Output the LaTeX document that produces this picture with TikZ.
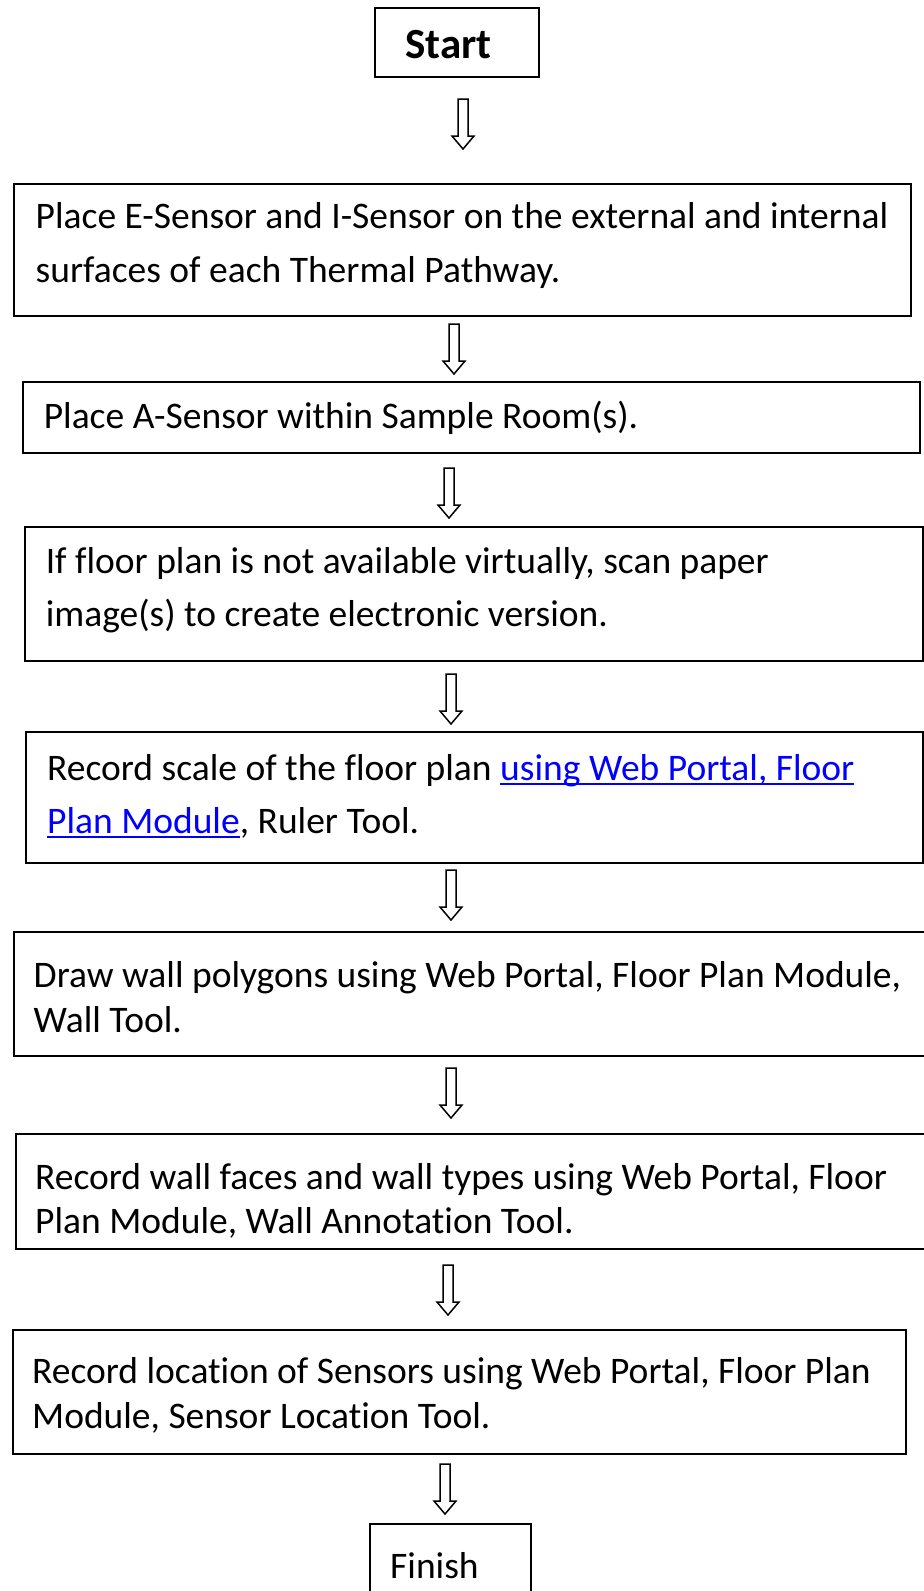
\documentclass[tikz,border=0pt]{standalone}
\usepackage{fontspec}
\setmainfont{Carlito}[Ligatures={NoCommon,NoContextual}]
\definecolor{linkblue}{RGB}{0,0,255}
\newcommand\ulk[1]{\setbox0\hbox{#1}\rlap{\rule[-4.5pt]{\wd0}{2pt}}\box0}
\tikzset{
  stepbox/.style={draw=black, line width=2pt, inner sep=0pt, anchor=north west},
  txt/.style={anchor=base west, inner sep=0pt, font=\fontsize{37.5}{44}\selectfont},
  hollow/.style={draw=black, line width=1.5pt, fill=white, line join=miter},
}
\newcommand\hollowarrow[1]{%
  \draw[hollow] (#1) ++(-5,0) -- ++(0,37) -- ++(-6,0) -- ++(11,13) -- ++(11,-13) -- ++(-6,0) -- ++(0,-37) -- cycle;}
\begin{document}
\begin{tikzpicture}[x=1pt,y=-1pt]
\useasboundingbox (0,0) rectangle (924,1591);
\fill[white] (0,0) rectangle (924,1591);
\clip (0,0) rectangle (924,1591);

% boxes
\node[stepbox, minimum width=164pt, minimum height=69pt] (start) at (374,7) {};
\node[stepbox, minimum width=897pt, minimum height=132pt] (b1) at (13,183) {};
\node[stepbox, minimum width=897pt, minimum height=71pt] (b2) at (22,381) {};
\node[stepbox, minimum width=898pt, minimum height=134pt] (b3) at (24,526) {};
\node[stepbox, minimum width=897pt, minimum height=131pt] (b4) at (25,731) {};
\node[stepbox, minimum width=930pt, minimum height=124pt] (b5) at (13,931) {};
\node[stepbox, minimum width=930pt, minimum height=115pt] (b6) at (15,1133) {};
\node[stepbox, minimum width=893pt, minimum height=124pt] (b7) at (12,1329) {};
\node[stepbox, minimum width=161pt, minimum height=100pt] (finish) at (369,1523) {};

% texts
\node[txt, font=\fontsize{43}{50}\selectfont\bfseries] (tstart) at (405,58) {Start};
\node[txt] (t1a) at (35.5,228) {Place E-Sensor and I-Sensor on the external and internal};
\node[txt] (t1b) at (35.5,282) {surfaces of each Thermal Pathway.};
\node[txt] (t2a) at (43.6,428) {Place A-Sensor within Sample Room(s).};
\node[txt] (t3a) at (45.6,573) {If floor plan is not available virtually, scan paper};
\node[txt] (t3b) at (45.6,626) {image(s) to create electronic version.};
\node[txt] (t4a) at (47,780) {Record scale of the floor plan \textcolor{linkblue}{\ulk{using Web Portal, Floor}}};
\node[txt] (t4b) at (47,833) {\textcolor{linkblue}{\ulk{Plan Module}}, Ruler Tool.};
\node[txt] (t5a) at (33.5,987) {Draw wall polygons using Web Portal, Floor Plan Module,};
\node[txt] (t5b) at (33.5,1032) {Wall Tool.};
\node[txt] (t6a) at (35,1189) {Record wall faces and wall types using Web Portal, Floor};
\node[txt] (t6b) at (35,1233) {Plan Module, Wall Annotation Tool.};
\node[txt] (t7a) at (32,1383) {Record location of Sensors using Web Portal, Floor Plan};
\node[txt] (t7b) at (32,1428) {Module, Sensor Location Tool.};
\node[txt] (tfinish) at (390,1578) {Finish};

% hollow arrows
\coordinate (a1) at (463,99);
\coordinate (a2) at (454,324);
\coordinate (a3) at (449,468);
\coordinate (a4) at (451,674);
\coordinate (a5) at (451,870);
\coordinate (a6) at (451,1068);
\coordinate (a7) at (448,1265);
\coordinate (a8) at (445,1464);
\foreach \a in {a1,a2,a3,a4,a5,a6,a7,a8} {\hollowarrow{\a}}
\end{tikzpicture}
\end{document}
